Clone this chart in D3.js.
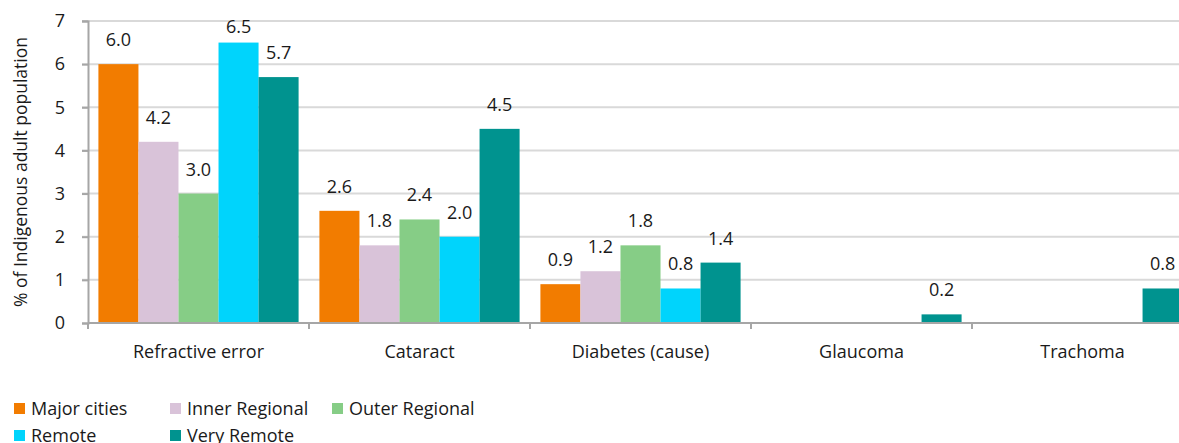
<!DOCTYPE html>
<html>
<head>
<meta charset="utf-8">
<script src="https://cdn.jsdelivr.net/npm/d3@7"></script>
<style>
  body { margin: 0; background: #fff; }
  svg { display: block; font-family: "Open Sans", sans-serif; }
</style>
</head>
<body>
<div id="chart"></div>
<script>
// vision loss causes by remoteness
var categories = ["Refractive error", "Cataract", "Diabetes (cause)", "Glaucoma", "Trachoma"];
var regions = ["Major cities", "Inner Regional", "Outer Regional", "Remote", "Very Remote"];
var colors = ["#f27c00", "#d9c3d9", "#86cd86", "#00d4fc", "#00938f"];

// one array per region, null = no bar
var majorCities    = [6.0, 2.6, 0.9, null, null];
var innerRegional  = [4.2, 1.8, 1.2, null, null];
var outerRegional  = [3.0, 2.4, 1.8, null, null];
var remote         = [6.5, 2.0, 0.8, null, null];
var veryRemote     = [5.7, 4.5, 1.4, 0.2, 0.8];
var yTicks = [0, 1, 2, 3, 4, 5, 6, 7];

var series = [majorCities, innerRegional, outerRegional, remote, veryRemote];

var width = 1179, height = 443;
var margin = {top: 21, left: 88, bottom: 120};
var fs = 18;

var svg = d3.select("#chart").append("svg")
    .attr("width", width)
    .attr("height", height);

// the plot runs a bit past the right edge, like the original
var x0 = d3.scaleBand()
    .domain(categories)
    .range([margin.left, 1193])
    .paddingInner(0).paddingOuter(0);

var x1 = d3.scaleBand()
    .domain(regions)
    .range([0, x0.bandwidth()])
    .paddingOuter(0.26).paddingInner(0);

var y = d3.scaleLinear()
    .domain([0, 7])
    .range([323, margin.top]);

// gridlines
svg.append("g")
    .selectAll("line")
    .data(yTicks.filter(d => d > 0))
    .join("line")
    .attr("x1", margin.left - 6)
    .attr("x2", width)
    .attr("y1", d => y(d))
    .attr("y2", d => y(d))
    .attr("stroke", "#d9d9d9")
    .attr("stroke-width", 2);

// y axis
var yAxis = svg.append("g")
    .attr("transform", "translate(" + margin.left + ",0)")
    .call(d3.axisLeft(y).tickValues(yTicks).tickFormat(d3.format("d")).tickSize(6).tickPadding(17));
yAxis.select(".domain").attr("stroke", "#a6a6a6").attr("stroke-width", 2);
yAxis.selectAll(".tick line").attr("stroke", "#a6a6a6").attr("stroke-width", 2);
yAxis.selectAll("text").attr("font-size", fs).attr("fill", "#1a1a1a").attr("font-family", "'Open Sans', sans-serif");

// bars
series.forEach(function(vals, i) {
  var g = svg.append("g").attr("fill", colors[i]);
  var pts = categories.map((c, j) => ({c: c, v: vals[j]})).filter(d => d.v != null);
  g.selectAll("rect")
    .data(pts)
    .join("rect")
    .attr("x", d => x0(d.c) + x1(regions[i]))
    .attr("width", x1.bandwidth())
    .attr("y", d => y(d.v))
    .attr("height", d => y(0) - y(d.v));

  svg.append("g")
    .selectAll("text")
    .data(pts)
    .join("text")
    .attr("x", d => x0(d.c) + x1(regions[i]) + x1.bandwidth() / 2)
    .attr("y", d => Math.max(y(d.v) - 18, 33))
    .attr("text-anchor", "middle")
    .attr("font-size", fs)
    .attr("fill", "#1a1a1a")
    .text(d => d3.format(".1f")(d.v));
});

// x axis
var xAxisScale = d3.scaleLinear().domain([0, categories.length]).range([margin.left, 1193]);
var xAxis = svg.append("g").attr("transform", "translate(0," + y(0) + ")");
xAxis.append("line")
    .attr("x1", margin.left).attr("x2", width)
    .attr("stroke", "#a6a6a6").attr("stroke-width", 2);
xAxis.selectAll(".tk")
    .data(d3.range(categories.length + 1))
    .join("line")
    .attr("class", "tk")
    .attr("x1", d => xAxisScale(d)).attr("x2", d => xAxisScale(d))
    .attr("y1", 0).attr("y2", 6)
    .attr("stroke", "#a6a6a6").attr("stroke-width", 2);
xAxis.selectAll("text")
    .data(categories)
    .join("text")
    .attr("x", d => x0(d) + x0.bandwidth() / 2)
    .attr("y", 35)
    .attr("text-anchor", "middle")
    .attr("font-size", fs)
    .attr("fill", "#1a1a1a")
    .text(d => d);

// y title
svg.append("text")
    .attr("transform", "translate(27," + 172 + ") rotate(-90)")
    .attr("text-anchor", "middle")
    .attr("font-size", fs - 0.5)
    .attr("fill", "#1a1a1a")
    .text("% of Indigenous adult population");

// legend
var legendPos = [[14, 403], [170, 403], [332, 403], [14, 430], [170, 430]];
var legend = svg.append("g")
    .selectAll("g")
    .data(regions)
    .join("g")
    .attr("transform", (d, i) => "translate(" + legendPos[i][0] + "," + legendPos[i][1] + ")");
legend.append("rect")
    .attr("width", 11).attr("height", 11)
    .attr("fill", (d, i) => colors[i]);
legend.append("text")
    .attr("x", 17).attr("y", 12)
    .attr("font-size", fs)
    .attr("fill", "#1a1a1a")
    .text(d => d);
</script>
</body>
</html>
